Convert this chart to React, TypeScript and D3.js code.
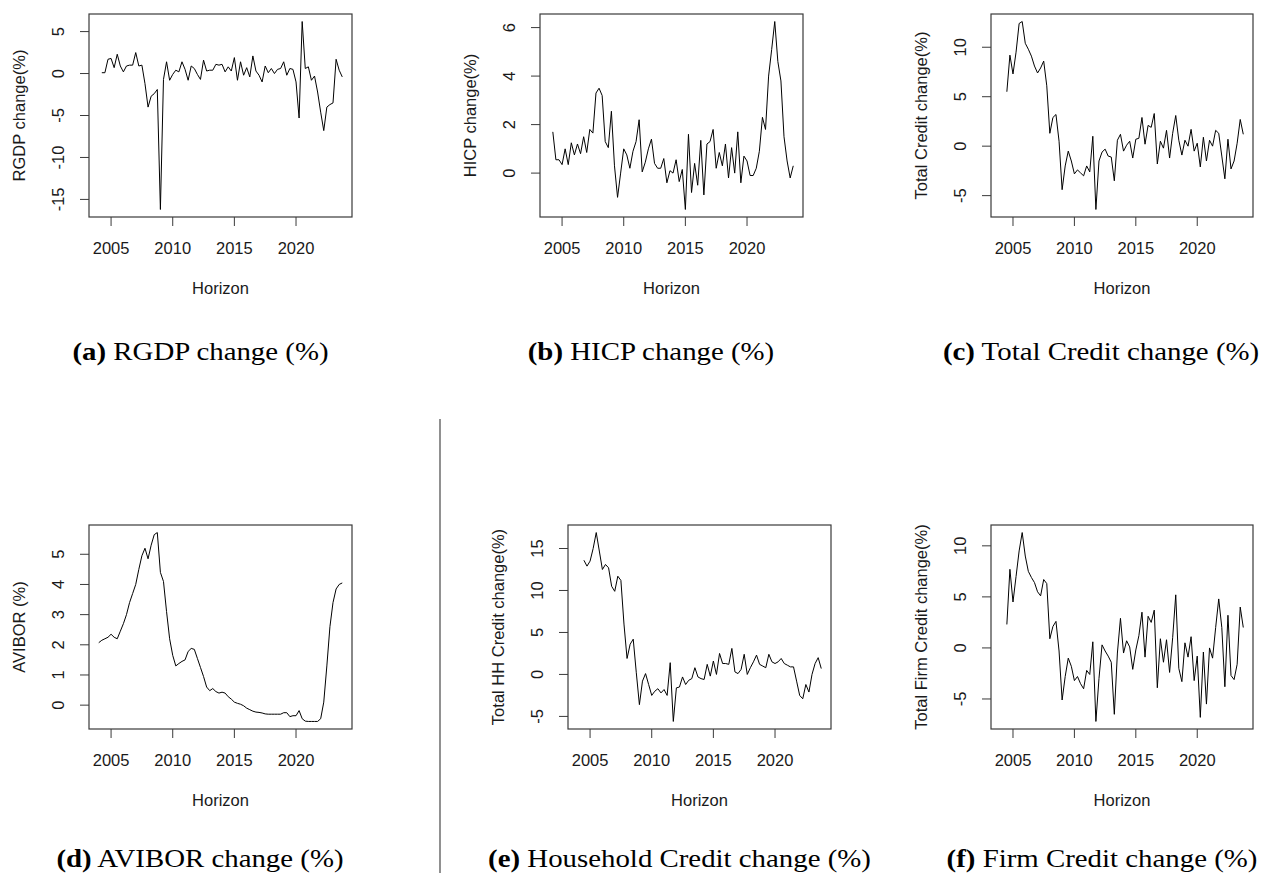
import React from "react";
import * as d3 from "d3";

// quarterly series
const rgdpStart = 2004.25;
const rgdp = [
  0.1, 0.1, 1.7,
  1.8, 0.7, 2.3, 0.9,
  0.2, 0.9, 1.0, 1.0,
  2.5, 0.9, 1.0, -1.2,
  -4.0, -2.7, -2.4, -1.9,
  -16.2, -0.7, 1.4, -0.8,
  -0.1, 0.4, 0.2, 1.4,
  0.5, -0.8, 0.9, 0.6,
  -0.1, -0.7, 1.6, 0.3,
  0.4, 0.4, 1.1, 1.0,
  1.1, 0.2, 0.8, 0.3,
  1.9, -0.8, 1.4, -0.2,
  0.7, -0.4, 2.1, 0.3,
  -0.2, -1.0, 0.9, 0.1,
  0.6, 0.0, 0.5, 0.6,
  1.4, -0.2, 0.6, 0.5,
  -1.0, -5.3, 6.2, 0.6,
  0.8, -0.8, -0.3, -2.2,
  -4.6, -6.8, -4.0, -3.7,
  -3.5, 1.7, 0.4, -0.4
];

const hicpStart = 2004.25;
const hicp = [
  1.7, 0.55, 0.55,
  0.35, 1.0, 0.35, 1.25,
  0.75, 1.2, 0.8, 1.5,
  0.85, 1.8, 1.65, 3.3,
  3.5, 3.2, 1.3, 1.05,
  2.55, 0.3, -1.0, 0.0,
  1.0, 0.75, 0.2, 0.9,
  1.3, 2.2, 0.05, 0.45,
  1.0, 1.4, 0.4, 0.2,
  0.2, 0.6, -0.4, 0.1,
  0.0, 0.55, -0.35, 0.15,
  -1.5, 1.6, -0.8, 0.4,
  -0.5, 1.35, -0.9, 1.2,
  1.3, 1.8, 0.2, 0.85,
  0.3, 1.2, -0.2, 1.05,
  0.0, 1.7, -0.4, 0.7,
  0.5, -0.1, -0.1, 0.2,
  0.9, 2.3, 1.8, 4.0,
  5.1, 6.25, 4.6, 3.8,
  1.5, 0.5, -0.2, 0.3
];

const creditStart = 2004.5;
const credit = [
  5.5, 9.2,
  7.3, 9.5, 12.4, 12.6,
  10.4, 9.8, 9.1, 8.1,
  7.4, 7.9, 8.6, 6.1,
  1.3, 2.9, 3.2, 0.5,
  -4.4, -2.0, -0.5, -1.5,
  -2.8, -2.4, -2.7, -3.0,
  -2.0, -2.6, 1.0, -6.4,
  -1.5, -0.6, -0.3, -1.0,
  -1.1, -3.5, 0.6, 1.2,
  -0.5, 0.1, 0.5, -1.2,
  0.7, 0.8, 2.9, 0.2,
  2.1, 1.9, 3.3, -1.8,
  0.5, -0.2, 1.6, -1.2,
  1.3, 3.1, 0.6, -0.9,
  0.6, 0.0, 1.7, -0.5,
  0.3, -2.1, 0.9, -1.5,
  0.6, 0.0, 1.6, 1.3,
  -1.0, -3.3, 0.7, -2.3,
  -1.5, 0.3, 2.7, 1.2
];

const aviborStart = 2004.0;
const avibor = [
  2.07, 2.15, 2.2, 2.25,
  2.35, 2.25, 2.2, 2.45,
  2.7, 3.0, 3.4, 3.7,
  4.0, 4.5, 4.95, 5.2,
  4.85, 5.3, 5.65, 5.72,
  4.4, 4.1, 3.1, 2.2,
  1.65, 1.3, 1.38, 1.45,
  1.5, 1.78, 1.88, 1.85,
  1.55, 1.25, 0.95, 0.6,
  0.48, 0.55, 0.45, 0.4,
  0.43, 0.4, 0.28, 0.2,
  0.1, 0.06, 0.03, -0.02,
  -0.1, -0.15, -0.2, -0.23,
  -0.24, -0.26, -0.29, -0.3,
  -0.3, -0.3, -0.3, -0.3,
  -0.25, -0.25, -0.38, -0.35,
  -0.35, -0.18, -0.45, -0.53,
  -0.54, -0.54, -0.54, -0.54,
  -0.45, 0.1, 1.3, 2.6,
  3.4, 3.85, 4.0, 4.05
];

const hhStart = 2004.5;
const hhCredit = [
  13.6, 12.9,
  13.5, 15.0, 16.9, 14.7,
  12.5, 13.1, 12.7, 10.5,
  9.9, 11.7, 11.2, 6.0,
  1.9, 3.6, 4.2, 0.2,
  -3.6, -0.8, 0.1, -1.2,
  -2.5, -2.0, -1.7, -2.2,
  -1.8, -2.5, 1.4, -5.6,
  -1.6, -1.5, -0.3, -1.2,
  -0.7, -0.5, 0.8, -0.3,
  -0.5, -0.6, 1.2, -0.2,
  1.6, 0.0, 2.5, 1.3,
  1.3, 1.2, 3.1, 0.3,
  0.1, 0.6, 2.4, 0.0,
  0.8, 1.5, 2.3, 1.2,
  1.0, 0.8, 2.4, 1.5,
  1.3, 1.5, 1.9, 1.3,
  1.1, 0.9, 0.9, -0.8,
  -2.5, -2.9, -1.2, -2.1,
  0.0, 1.3, 2.0, 0.7
];

const firmStart = 2004.5;
const firmCredit = [
  2.3, 7.7,
  4.5, 7.0, 9.5, 11.3,
  9.0, 7.5, 6.9, 6.4,
  5.5, 5.1, 6.7, 6.3,
  0.9, 2.1, 2.6, -0.3,
  -5.1, -2.8, -1.0, -1.8,
  -3.2, -2.8, -3.5, -4.0,
  -2.2, -2.6, 0.6, -7.2,
  -3.0, 0.3, -0.3, -0.8,
  -1.4, -6.5, -0.5, 2.9,
  -0.5, 0.7, 0.1, -2.1,
  -0.2, 1.2, 3.5, -0.9,
  3.1, 2.5, 3.7, -3.9,
  0.9, -1.4, 0.8, -2.4,
  1.0, 5.2, -2.0, -3.3,
  0.5, -0.9, 1.1, -3.2,
  -0.8, -6.8, -0.4, -5.5,
  0.0, -1.0, 2.0, 4.8,
  2.0, -3.8, 3.2, -2.7,
  -3.1, -1.6, 4.0, 2.0
];

const xTicks = [2005, 2010, 2015, 2020];
const xDomain = [2003.21, 2024.54];

const yTicksA = [-15, -10, -5, 0, 5];
const yTicksB = [0, 2, 4, 6];
const yTicksC = [-5, 0, 5, 10];
const yTicksD = [0, 1, 2, 3, 4, 5];
const yTicksE = [-5, 0, 5, 10, 15];
const yTicksF = [-5, 0, 5, 10];

const yLabels = [
  "RGDP change(%)",
  "HICP change(%)",
  "Total Credit change(%)",
  "AVIBOR (%)",
  "Total HH Credit change(%)",
  "Total Firm Credit change(%)"
];
const captionTags = ["(a)", "(b)", "(c)", "(d)", "(e)", "(f)"];
const captionTexts = [
  "RGDP change (%)",
  "HICP change (%)",
  "Total Credit change (%)",
  "AVIBOR change (%)",
  "Household Credit change (%)",
  "Firm Credit change (%)"
];

// layout of the six plot boxes (pixels)
const boxes = [
  { l: 89, r: 352, t: 14, b: 217, cx: 200.5, cy: 360 },
  { l: 540, r: 803, t: 14, b: 217, cx: 651, cy: 360 },
  { l: 991, r: 1253, t: 14, b: 217, cx: 1101, cy: 360 },
  { l: 89, r: 352, t: 525, b: 729, cx: 200, cy: 867 },
  { l: 568, r: 831, t: 525, b: 729, cx: 679.5, cy: 867 },
  { l: 991, r: 1253, t: 525, b: 729, cx: 1102, cy: 867 }
];

const series = [
  { start: rgdpStart, values: rgdp, ticks: yTicksA },
  { start: hicpStart, values: hicp, ticks: yTicksB },
  { start: creditStart, values: credit, ticks: yTicksC },
  { start: aviborStart, values: avibor, ticks: yTicksD },
  { start: hhStart, values: hhCredit, ticks: yTicksE },
  { start: firmStart, values: firmCredit, ticks: yTicksF }
];

const SANS = "'Liberation Sans', Arial, sans-serif";
const SERIF = "'Liberation Serif', 'Times New Roman', serif";
const TXT = "#1a1a1a";
const AXIS = "#3a3a3a";

function Panel({ idx }: { idx: number }) {
  const box = boxes[idx];
  const s = series[idx];
  const pts = s.values.map((v, i) => ({ t: s.start + i * 0.25, v }));

  const x = d3.scaleLinear().domain(xDomain).range([box.l, box.r]);
  // R style: data range padded by 4%
  const [lo, hi] = d3.extent(s.values) as [number, number];
  const pad = (hi - lo) * 0.04;
  const y = d3
    .scaleLinear()
    .domain([lo - pad, hi + pad])
    .range([box.b, box.t]);

  const path = d3
    .line<{ t: number; v: number }>()
    .x(d => x(d.t))
    .y(d => y(d.v))(pts);

  const midY = (box.t + box.b) / 2;
  const midX = (box.l + box.r) / 2;

  return (
    <g>
      <path d={path || ""} fill="none" stroke="#000" strokeWidth={1} />
      <rect
        x={box.l}
        y={box.t}
        width={box.r - box.l}
        height={box.b - box.t}
        fill="none"
        stroke={AXIS}
        strokeWidth={1.2}
      />
      {xTicks.map(t => (
        <g key={"x" + t}>
          <line x1={x(t)} x2={x(t)} y1={box.b} y2={box.b + 9} stroke={AXIS} />
          <text
            x={x(t)}
            y={box.b + 37}
            textAnchor="middle"
            fontFamily={SANS}
            fontSize={16.5}
            fill={TXT}
          >
            {t}
          </text>
        </g>
      ))}
      {s.ticks.map(t => (
        <g key={"y" + t}>
          <line x1={box.l - 9} x2={box.l} y1={y(t)} y2={y(t)} stroke={AXIS} />
          <text
            transform={`translate(${box.l - 25.5},${y(t)}) rotate(-90)`}
            textAnchor="middle"
            fontFamily={SANS}
            fontSize={16.5}
            fill={TXT}
          >
            {String(t)}
          </text>
        </g>
      ))}
      <text
        x={midX}
        y={box.b + 76.5}
        textAnchor="middle"
        fontFamily={SANS}
        fontSize={16.5}
        fill={TXT}
      >
        Horizon
      </text>
      <text
        transform={`translate(${box.l - 64},${midY}) rotate(-90)`}
        textAnchor="middle"
        fontFamily={SANS}
        fontSize={16.5}
        fill={TXT}
      >
        {yLabels[idx]}
      </text>
      {/* caption glyphs in the source are a bit wider than Liberation Serif */}
      <text
        transform={`translate(${box.cx},${box.cy}) scale(1.11,1)`}
        textAnchor="middle"
        fontFamily={SERIF}
        fontSize={26}
        fill="#000"
      >
        <tspan fontWeight="bold">{captionTags[idx]}</tspan> {captionTexts[idx]}
      </text>
    </g>
  );
}

export default function App() {
  return (
    <svg
      width={1263}
      height={873}
      style={{ position: "absolute", left: 0, top: 0, background: "#fff" }}
    >
      <rect x={0} y={0} width={1263} height={873} fill="#fff" />
      {boxes.map((_, i) => (
        <Panel key={i} idx={i} />
      ))}
      <line x1={440} x2={440} y1={419} y2={873} stroke="#555" strokeWidth={1.3} />
    </svg>
  );
}
